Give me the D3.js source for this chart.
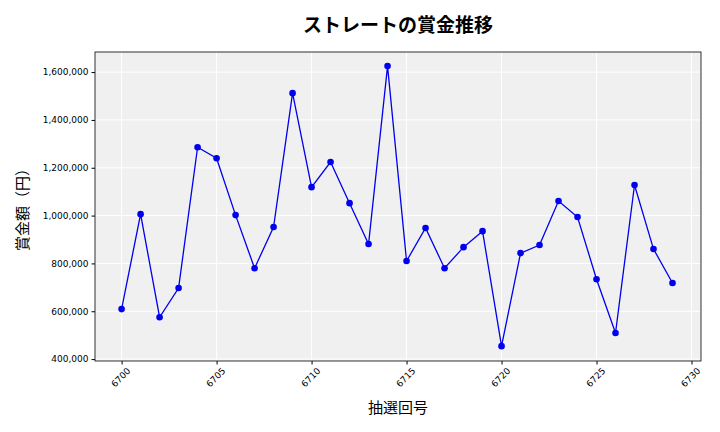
<!DOCTYPE html>
<html><head><meta charset="utf-8">
<script src="https://cdn.jsdelivr.net/npm/d3@7"></script>
<style>body{margin:0;background:#fff;font-family:"Noto Sans CJK JP","DejaVu Sans",sans-serif}</style>
</head><body><svg id="c" width="720" height="432"></svg>
<script>
const draws = d3.range(6700, 6730);
const prizes = [609000, 1006000, 575000, 697000, 1286000, 1240000, 1002000, 780000, 952000, 1512000,
  1119000, 1224000, 1052000, 881000, 1625000, 810000, 948000, 780000, 868000, 935000,
  454000, 843000, 877000, 1061000, 994000, 734000, 509000, 1128000, 860000, 718000];
const xTicks = [6700, 6705, 6710, 6715, 6720, 6725, 6730];
const yTicks = [400000, 600000, 800000, 1000000, 1200000, 1400000, 1600000];

const m = {l: 95, r: 701, t: 52, b: 361};
const svg = d3.select("#c");
const x = d3.scaleLinear().domain([6698.6, 6730.5]).range([m.l, m.r]);
const y = d3.scaleLinear().domain([392000, 1684000]).range([m.b, m.t]);

svg.append("rect").attr("x", m.l).attr("y", m.t).attr("width", m.r - m.l).attr("height", m.b - m.t)
  .attr("fill", "#f0f0f0");

const g = svg.append("g");
g.selectAll(".gx").data(xTicks).join("line").attr("x1", d => x(d)).attr("x2", d => x(d))
  .attr("y1", m.t).attr("y2", m.b).attr("stroke", "#fff").attr("stroke-width", 1);
g.selectAll(".gy").data(yTicks).join("line").attr("y1", d => y(d)).attr("y2", d => y(d))
  .attr("x1", m.l).attr("x2", m.r).attr("stroke", "#fff").attr("stroke-width", 1);

svg.append("rect").attr("x", m.l).attr("y", m.t).attr("width", m.r - m.l).attr("height", m.b - m.t)
  .attr("fill", "none").attr("stroke", "#000").attr("stroke-width", 0.8);

const xa = svg.append("g").attr("transform", `translate(0,${m.b})`)
  .call(d3.axisBottom(x).tickValues(xTicks).tickFormat(d3.format("d")).tickSize(3.5));
xa.select(".domain").remove();
xa.selectAll("text").attr("font-size", 9).attr("font-family", "DejaVu Sans")
  .attr("text-anchor", "end").attr("dx", "0.2em").attr("dy", "0.5em")
  .attr("transform", function() { return "rotate(-45)"; });
xa.selectAll(".tick text").each(function() {
  d3.select(this).attr("transform", "translate(0,4) rotate(-45)");
});

const ya = svg.append("g").attr("transform", `translate(${m.l},0)`)
  .call(d3.axisLeft(y).tickValues(yTicks).tickFormat(d3.format(",")).tickSize(3.5));
ya.select(".domain").remove();
ya.selectAll("text").attr("font-size", 9).attr("font-family", "DejaVu Sans");

const line = d3.line().x((d, i) => x(draws[i])).y(d => y(d));
svg.append("path").datum(prizes).attr("d", line).attr("fill", "none")
  .attr("stroke", "#0000ee").attr("stroke-width", 1.3);
svg.selectAll(".pt").data(prizes).join("circle").attr("cx", (d, i) => x(draws[i])).attr("cy", d => y(d))
  .attr("r", 3.3).attr("fill", "#0000ee");

svg.append("text").attr("x", 398).attr("y", 32).attr("text-anchor", "middle")
  .attr("font-size", 19).attr("font-weight", "bold").text("ストレートの賞金推移");
svg.append("text").attr("x", 398).attr("y", 413).attr("text-anchor", "middle")
  .attr("font-size", 15).text("抽選回号");
svg.append("text").attr("transform", "translate(28,206) rotate(-90)").attr("text-anchor", "middle")
  .attr("font-size", 15).text("賞金額（円）");
</script></body></html>
